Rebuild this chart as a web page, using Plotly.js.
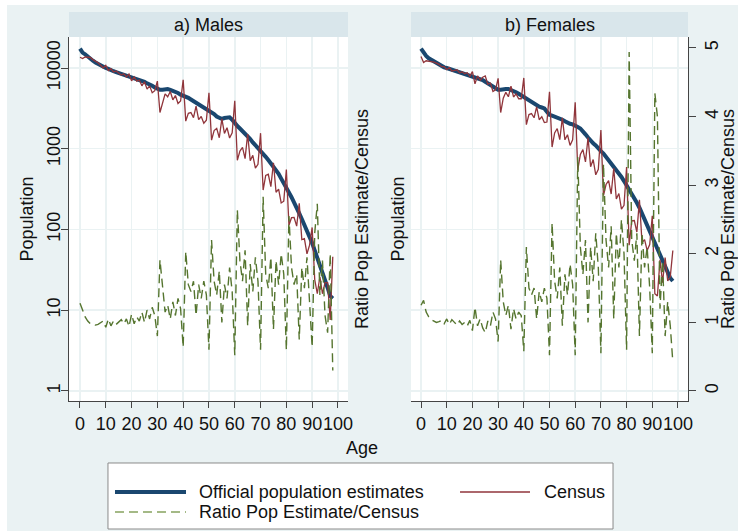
<!DOCTYPE html>
<html>
<head>
<meta charset="utf-8">
<script src="https://cdn.plot.ly/plotly-3.0.1.min.js"></script>
<style>
  html, body { margin: 0; padding: 0; background: #ffffff; }
  #chart { position: absolute; left: 7px; top: 5px; width: 731px; height: 526px; }
</style>
</head>
<body>
<div id="chart"></div>
<script>
// ---------------- DATA ----------------
const ages = [0,1,2,3,4,5,6,7,8,9,10,11,12,13,14,15,16,17,18,19,20,21,22,23,24,25,26,27,28,29,
  30,31,32,33,34,35,36,37,38,39,40,41,42,43,44,45,46,47,48,49,50,51,52,53,54,55,56,57,58,59,
  60,61,62,63,64,65,66,67,68,69,70,71,72,73,74,75,76,77,78,79,80,81,82,83,84,85,86,87,88,89,
  90,91,92,93,94,95,96,97,98];

const xTicks = [0,10,20,30,40,50,60,70,80,90,100];
const popTicks = [1,10,100,1000,10000];
const popTickText = ['1','10','100','1000','10000'];
const ratioTicks = [0,1,2,3,4,5];

const panelTitles = ['a) Males', 'b) Females'];
const seriesNames = ['Official population estimates', 'Census', 'Ratio Pop Estimate/Census'];

// Males
const maleOfficial = [17400,15500,14800,13800,13200,12300,11700,11200,10700,10200,
  10000,9770,9330,9120,8910,8710,8510,8320,8130,7940,
  7760,7590,7410,7240,6920,6760,6460,6310,6030,5750,
  5500,5370,5370,5500,5500,5370,5250,5010,4900,4680,
  4570,4470,4270,4070,3890,3720,3550,3390,3310,3160,
  2950,2820,2690,2510,2400,2340,2400,2450,2450,2290,
  2040,1910,1780,1660,1550,1450,1320,1200,1120,1020,
  933,871,794,724,661,603,550,490,427,380,
  331,288,251,219,186,158,135,115,98,83,
  68,55,45,36,30,24,19,15,14];
const maleCensus = [13600,13100,13700,13500,13500,12700,12200,11600,10800,10000,
  10800,9310,9820,8930,9180,8710,8180,8490,7740,8450,
  6930,7740,6870,7100,6010,6760,5470,6010,4940,5240,
  6870,2810,3580,4780,4400,5120,4040,4560,3630,3900,
  7140,2200,2750,2810,2430,3380,2290,2510,2070,2260,
  4920,1280,1680,1790,1370,2340,1550,1820,1360,1580,
  3930,721,935,1040,755,1520,713,830,575,640,
  1560,308,468,483,339,670,289,316,213,224,
  552,113,140,141,110,211,75,77,50,64,
  106,24,16,26,16,22,22,7.6,46];
const maleRatio = [1.28,1.18,1.08,1.02,0.98,0.97,0.96,0.97,0.99,1.02,
  0.93,1.05,0.95,1.02,0.97,1.00,1.04,0.98,1.05,0.94,
  1.12,0.98,1.08,1.02,1.15,1.00,1.18,1.05,1.22,1.10,
  0.80,1.91,1.50,1.15,1.25,1.05,1.30,1.10,1.35,1.20,
  0.64,2.03,1.55,1.45,1.60,1.10,1.55,1.35,1.60,1.40,
  0.60,2.20,1.60,1.40,1.75,1.00,1.55,1.35,1.80,1.45,
  0.52,2.64,1.90,1.60,2.05,0.95,1.85,1.45,1.95,1.60,
  0.60,2.83,1.70,1.50,1.95,0.90,1.90,1.55,2.00,1.70,
  0.60,2.55,1.80,1.55,1.70,0.75,1.80,1.50,1.95,1.30,
  0.64,2.30,2.73,1.40,1.90,1.10,0.85,2.00,0.30];

// Females
const femaleOfficial = [17400,15500,14100,13200,12600,12000,11500,11200,10700,10200,
  10000,9770,9550,9330,9120,8910,8710,8510,8320,8130,
  7940,7760,7590,7410,7080,6760,6460,6170,5890,5620,
  5370,5370,5500,5500,5500,5370,5250,5010,4790,4570,
  4370,4170,3980,3800,3630,3470,3310,3240,3160,2880,
  2630,2570,2510,2400,2340,2290,2190,2090,2040,2000,
  1950,1860,1780,1660,1510,1380,1260,1170,1100,1000,
  933,871,794,724,661,603,550,501,447,398,
  355,316,282,245,214,186,158,135,115,98,
  81,69,59,50,43,36,30,25,23];
const femaleCensus = [13900,11700,12300,12200,12100,11800,11500,11100,10400,10400,
  9530,10100,9180,9330,9510,8730,8970,8510,8750,7890,
  9040,6370,7980,7060,7690,7960,6320,6490,5120,5360,
  7460,2810,4230,5000,4400,5970,4380,4780,4160,4160,
  7530,1990,2650,2720,2420,3300,2290,2490,2110,2140,
  5060,1050,1570,1780,1300,2410,1290,1490,1100,1290,
  3750,546,847,977,689,1380,600,735,476,556,
  1700,263,361,403,275,574,239,279,179,199,
  592,64,128,129,93,233,69,75,55,65,
  148,16,15,42,22,45,23,26,55];
const femaleRatio = [1.25,1.32,1.15,1.08,1.04,1.02,1.00,1.01,1.03,0.98,
  1.05,0.97,1.04,1.00,0.96,1.02,0.97,1.00,0.95,1.03,
  0.88,1.22,0.95,1.05,0.92,0.85,1.02,0.95,1.15,1.05,
  0.72,1.91,1.30,1.10,1.25,0.90,1.20,1.05,1.15,1.10,
  0.58,2.10,1.50,1.40,1.50,1.05,1.45,1.30,1.50,1.35,
  0.52,2.45,1.60,1.35,1.80,0.95,1.70,1.40,1.85,1.55,
  0.52,3.41,2.10,1.70,2.20,1.00,2.10,1.60,2.30,1.80,
  0.55,3.31,2.20,1.80,2.40,1.05,2.30,1.80,2.50,2.00,
  0.60,4.94,2.20,1.90,2.30,0.80,2.30,1.80,2.10,1.50,
  0.55,4.34,4.00,1.20,1.90,0.80,1.30,0.95,0.42];

// ---------------- STYLE ----------------
const FONT = 'Arial, "Liberation Sans", sans-serif';
const FS = 18;
const NAVY = '#1a476f', MAROON = '#90353b', GREEN = '#55752f';
const BG = '#eaf2f3', STRIP = '#d9e6eb', AXIS = '#444444', TXT = '#111111';
const RATIO_DASH = '9px,5px';
const f = (s) => ({family: FONT, size: s || FS, color: TXT});

function traces(off, cen, rat, xa, ya, ya2) {
  return [
    {x: ages, y: off, xaxis: xa, yaxis: ya, type: 'scatter', mode: 'lines', name: seriesNames[0],
     line: {color: NAVY, width: 4}, showlegend: false, hoverinfo: 'skip'},
    {x: ages, y: cen, xaxis: xa, yaxis: ya, type: 'scatter', mode: 'lines', name: seriesNames[1],
     line: {color: MAROON, width: 1.3}, showlegend: false, hoverinfo: 'skip'},
    {x: ages, y: rat, xaxis: xa, yaxis: ya2, type: 'scatter', mode: 'lines', name: seriesNames[2],
     line: {color: GREEN, width: 1.4, dash: RATIO_DASH}, showlegend: false, hoverinfo: 'skip'}
  ];
}

const data = [].concat(
  traces(maleOfficial, maleCensus, maleRatio, 'x', 'y', 'y2'),
  traces(femaleOfficial, femaleCensus, femaleRatio, 'x2', 'y3', 'y4')
);

// plot area (div coords): x 53..691, y 5..426
const yDom = [0.07126, 0.93587];
const popRange = [-0.124, 4.384];
const ratioRange = [-0.146, 5.16];

function xAxis(domain, anchor, range) {
  return {domain: domain, anchor: anchor, range: range, tickvals: xTicks, tickangle: 0,
    ticks: 'outside', ticklen: 6, tickcolor: AXIS, tickwidth: 1,
    showline: true, linecolor: AXIS, linewidth: 1, mirror: false,
    showgrid: true, gridcolor: BG, gridwidth: 1.5, zeroline: false,
    tickfont: f(), fixedrange: true};
}

const layout = {
  width: 731, height: 526,
  margin: {l: 53, r: 40, t: 5, b: 100},
  paper_bgcolor: BG, plot_bgcolor: '#ffffff',
  showlegend: false,
  font: f(),
  xaxis: xAxis([0.01411, 0.45141], 'y', [-4.26, 103.9]),
  xaxis2: xAxis([0.55016, 0.98433], 'y3', [-3.9, 103.9]),
  yaxis: {domain: yDom, anchor: 'x', type: 'log', range: popRange,
    tickvals: popTicks, ticktext: popTickText, tickangle: -90, ticklabelstandoff: -6,
    ticks: 'outside', ticklen: 7, tickcolor: AXIS, showline: true, linecolor: AXIS, linewidth: 1,
    showgrid: true, gridcolor: BG, gridwidth: 1.5, zeroline: false,
    tickfont: f(),
    title: {text: 'Population', font: f(), standoff: 5}},
  yaxis2: {overlaying: 'y', anchor: 'x', side: 'right', range: ratioRange,
    showticklabels: false, ticks: '', showgrid: false, zeroline: false, showline: false,
    title: {text: 'Ratio Pop Estimate/Census', font: f(), standoff: 7}},
  yaxis3: {domain: yDom, anchor: 'x2', type: 'log', range: popRange,
    tickvals: popTicks, showticklabels: false, ticks: '', showline: false,
    showgrid: true, gridcolor: BG, gridwidth: 1.5, zeroline: false,
    title: {text: 'Population', font: f(), standoff: 0}},
  yaxis4: {overlaying: 'y3', anchor: 'x2', side: 'right', range: ratioRange,
    tickvals: ratioTicks, tickangle: -90,
    ticks: 'outside', ticklen: 7, tickcolor: AXIS, showline: true, linecolor: AXIS, linewidth: 1,
    showgrid: false, zeroline: false,
    tickfont: f(),
    title: {text: 'Ratio Pop Estimate/Census', font: f(), standoff: 1}},
  shapes: [
    // panel header strips
    {type: 'rect', xref: 'x domain', yref: 'y domain', x0: 0, x1: 1, y0: 1, y1: 1.0687,
     fillcolor: STRIP, line: {width: 0}},
    {type: 'rect', xref: 'x2 domain', yref: 'y3 domain', x0: 0, x1: 1, y0: 1, y1: 1.0687,
     fillcolor: STRIP, line: {width: 0}},
    // legend box
    {type: 'rect', xref: 'paper', yref: 'paper', x0: 0.0752, x1: 0.8668, y0: -0.0760, y1: -0.2328,
     fillcolor: '#ffffff', line: {color: '#8a8a8a', width: 1}},
    {type: 'line', xref: 'paper', yref: 'paper', x0: 0.0862, x1: 0.1975, y0: -0.1449, y1: -0.1449,
     line: {color: NAVY, width: 4}},
    {type: 'line', xref: 'paper', yref: 'paper', x0: 0.6270, x1: 0.7367, y0: -0.1449, y1: -0.1449,
     line: {color: MAROON, width: 1.3}},
    {type: 'line', xref: 'paper', yref: 'paper', x0: 0.0862, x1: 0.1975, y0: -0.1924, y1: -0.1924,
     line: {color: '#86a35f', width: 1.3, dash: RATIO_DASH}}
  ],
  annotations: [
    {text: panelTitles[0], xref: 'x domain', yref: 'y domain', x: 0.5, y: 1.0343,
     xanchor: 'center', yanchor: 'middle', showarrow: false, font: f()},
    {text: panelTitles[1], xref: 'x2 domain', yref: 'y3 domain', x: 0.5, y: 1.0343,
     xanchor: 'center', yanchor: 'middle', showarrow: false, font: f()},
    {text: 'Age', xref: 'paper', yref: 'paper', x: 0.4734, y: -0.0404,
     xanchor: 'center', yanchor: 'middle', showarrow: false, font: f()},
    {text: seriesNames[0], xref: 'paper', yref: 'paper', x: 0.2147, y: -0.1449,
     xanchor: 'left', yanchor: 'middle', showarrow: false, font: f()},
    {text: seriesNames[1], xref: 'paper', yref: 'paper', x: 0.7555, y: -0.1449,
     xanchor: 'left', yanchor: 'middle', showarrow: false, font: f()},
    {text: seriesNames[2], xref: 'paper', yref: 'paper', x: 0.2147, y: -0.1924,
     xanchor: 'left', yanchor: 'middle', showarrow: false, font: f()}
  ]
};

Plotly.newPlot('chart', data, layout, {displayModeBar: false, staticPlot: true});
</script>
</body>
</html>
